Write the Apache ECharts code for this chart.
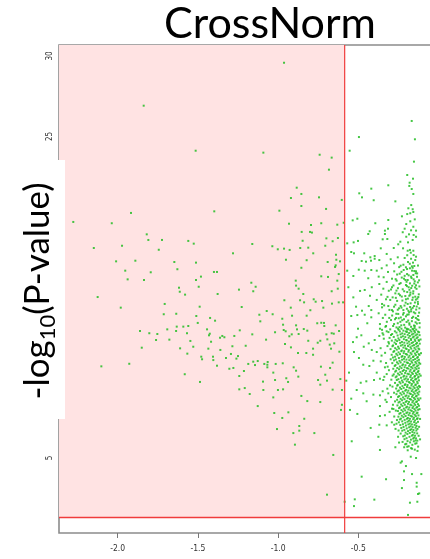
<!DOCTYPE html>
<html>
<head>
<meta charset="utf-8">
<script src="https://cdn.jsdelivr.net/npm/echarts@6/dist/echarts.min.js"></script>
<style>
  html, body { margin: 0; padding: 0; background: #fff; }
  #chart { width: 430px; height: 559px; }
</style>
</head>
<body>
<div id="chart"></div>
<script>
// Axis ticks and thresholds
const xTicks = [-2.0, -1.5, -1.0, -0.5];
const yTicks = [5, 10, 15, 20, 25, 30];
const foldCutoff = -0.585;   // log2 fold-change threshold
const pCutoff = 1.3;         // -log10(0.05)
const xRange = [-2.366, 0];
const yRange = [0.336, 30.684];

// Genes left of the fold-change cutoff: [log2FC, -log10 P]
const pinkPoints = [
  [-0.963,29.58],[-1.838,26.91],[-1.514,24.11],[-1.092,23.99],[-0.741,23.86],[-0.666,23.68],[-0.683,22.93],
  [-1.917,20.24],[-2.277,19.68],[-2.037,19.60],[-1.819,18.91],[-1.809,18.56],[-1.724,18.56],[-1.560,18.50],[-1.526,18.33],
  [-2.149,18.06],[-1.973,18.20],[-1.744,17.95],[-1.890,17.27],[-2.010,17.23],[-1.647,17.19],[-1.512,17.15],[-1.628,16.74],
  [-1.953,16.65],[-1.794,16.55],[-1.938,16.11],[-1.836,16.07],[-1.512,16.07],[-1.618,15.59],[-1.495,15.65],[-1.613,15.34],
  [-1.580,15.16],[-2.125,15.01],[-1.707,14.58],[-1.489,14.41],[-1.981,14.35],[-1.713,13.94],[-1.635,13.97],[-1.510,13.83],
  [-1.501,13.40],[-1.560,13.21],[-1.591,13.17],[-1.632,13.17],[-1.691,13.00],[-1.636,12.90],[-1.861,12.90],[-1.803,12.76],
  [-1.753,12.71],[-1.568,12.76],[-1.678,12.36],[-1.761,12.34],[-1.547,12.28],[-1.529,11.92],[-1.850,11.86],[-1.611,11.82],
  [-1.566,11.49],[-1.928,10.86],[-2.102,10.70],[-1.582,10.21],
  [-0.884,21.81],[-0.855,21.42],[-0.920,21.17],[-0.745,21.21],[-0.603,21.05],[-0.855,20.67],[-0.992,20.38],[-1.398,20.34],
  [-0.701,20.49],[-0.932,19.57],[-0.795,19.49],[-0.731,19.60],[-0.631,19.51],[-0.591,19.63],[-0.853,19.06],[-0.801,19.06],
  [-0.789,19.02],[-0.699,18.66],[-0.627,18.68],[-0.847,18.51],[-0.660,18.48],[-1.161,18.31],[-0.706,18.20],[-1.036,18.17],
  [-1.002,17.98],[-0.963,18.02],[-0.928,17.94],[-0.862,18.06],[-0.812,18.08],[-0.781,17.73],[-1.281,17.73],[-0.639,17.64],
  [-0.951,17.33],[-0.822,17.30],[-0.691,17.19],[-0.637,17.33],[-0.614,17.23],[-0.641,16.98],[-0.645,16.88],[-0.855,16.83],
  [-1.400,16.57],[-1.381,16.57],[-1.481,16.28],[-0.622,16.44],[-0.731,16.30],[-0.689,16.26],[-0.890,16.03],[-0.888,15.72],
  [-0.872,15.53],[-1.167,15.90],[-1.140,15.65],[-1.244,15.47],[-1.155,15.37],[-0.843,15.20],[-0.628,15.53],[-0.666,15.37],
  [-1.377,15.20],[-0.778,14.87],[-0.961,14.81],[-0.863,14.81],[-0.838,14.68],[-0.766,14.72],[-0.726,14.76],[-0.799,14.19],
  [-0.622,14.68],[-0.595,14.68],[-0.664,14.60],[-0.718,14.35],[-1.227,14.39],[-0.921,14.35],[-0.913,13.85],[-0.822,13.85],
  [-1.071,14.14],[-1.034,13.94],[-1.117,13.91],[-0.974,13.66],[-0.888,13.25],[-0.965,12.96],[-0.953,12.88],[-0.969,13.29],
  [-1.111,13.50],[-1.393,13.54],[-1.424,13.71],[-1.443,13.00],[-1.426,12.73],[-1.431,12.63],[-1.239,12.94],[-1.019,12.82],
  [-0.915,12.69],[-0.930,12.57],[-0.882,13.00],[-0.840,13.02],[-0.818,12.92],[-0.756,13.38],[-0.731,13.41],[-0.714,13.40],
  [-0.712,13.21],[-0.641,13.25],[-0.620,12.90],[-0.699,12.69],[-0.666,12.76],[-0.653,12.73],[-0.693,12.38],[-0.737,12.29],
  [-0.678,12.05],[-0.650,12.13],[-0.812,12.29],[-0.872,12.71],[-1.161,12.69],[-1.348,12.59],[-1.335,12.51],[-1.362,12.48],
  [-1.273,12.59],[-1.418,12.23],[-1.285,11.95],[-1.202,11.98],[-1.075,12.36],[-0.957,12.09],[-0.920,11.88],[-0.782,11.80],
  [-0.670,11.80],[-1.435,11.80],[-1.360,11.72],
  [-1.479,11.30],[-1.474,11.14],[-1.404,11.09],[-1.406,11.30],[-1.325,11.22],[-1.294,11.47],[-1.250,11.34],[-1.260,11.18],
  [-1.381,10.74],[-1.304,10.55],[-1.279,10.60],[-1.242,10.10],[-1.213,10.41],[-1.186,10.85],[-1.155,10.99],[-1.144,10.78],
  [-1.127,11.03],[-1.086,10.85],[-1.065,10.97],[-1.067,10.80],[-1.067,10.64],[-1.015,10.85],[-0.971,10.89],[-0.876,11.53],
  [-0.824,11.53],[-0.782,11.42],[-0.753,12.17],[-0.618,11.61],[-0.903,10.64],[-0.888,10.43],[-1.030,10.31],[-1.019,9.85],
  [-0.949,9.96],[-0.938,9.73],[-0.874,10.06],[-0.969,9.27],[-1.001,9.23],[-1.094,9.75],[-1.092,9.23],[-1.177,8.98],
  [-1.208,9.35],[-1.242,9.27],[-1.487,9.73],[-1.127,8.23],[-1.030,8.77],[-0.855,8.86],[-0.818,8.54],[-0.737,8.48],
  [-0.733,10.68],[-0.706,10.18],[-0.737,9.56],[-0.751,9.85],[-0.695,9.81],[-0.660,10.93],[-0.676,10.60],[-0.612,9.91],
  [-0.660,9.25],[-0.602,9.23],[-0.602,8.31],[-0.608,7.99],[-1.024,7.80],[-0.936,7.84],[-0.974,7.49],[-0.837,7.44],
  [-1.007,6.80],[-0.905,6.55],[-0.868,6.99],[-0.868,6.70],[-0.774,6.55],[-0.895,5.83],[-0.656,5.19],[-0.695,2.72],
  [-0.631,16.03]
];

// Genes right of the cutoff, outside the dense core
const rightPoints = [
  [-0.167,25.96],[-0.496,24.96],[-0.147,24.82],[-0.554,24.11],[-0.153,23.43],[-0.195,22.60],[-0.159,22.37],[-0.180,22.12],
  [-0.313,21.96],[-0.419,21.75],[-0.182,21.92],[-0.167,21.73],
  [-0.157,21.42],[-0.494,21.46],[-0.477,21.21],[-0.404,21.03],[-0.269,20.96],[-0.170,20.73],[-0.188,20.53],[-0.161,20.47],
  [-0.157,20.30],[-0.176,20.22],[-0.195,20.17],[-0.228,20.03],[-0.506,19.88],[-0.535,19.78],[-0.313,19.80],[-0.148,19.84],
  [-0.394,19.60],[-0.176,19.72],[-0.201,19.55],[-0.157,19.38],[-0.315,19.26],[-0.334,19.14],[-0.211,19.26],[-0.223,19.04],
  [-0.171,19.16],[-0.140,19.14],[-0.429,19.10],[-0.438,18.93],[-0.334,18.93],[-0.184,18.91],[-0.155,18.87],[-0.140,18.76],
  [-0.201,18.76],[-0.348,18.60],[-0.319,18.62],[-0.161,18.56],[-0.238,18.45],[-0.190,18.41],[-0.569,18.35],[-0.529,18.41],
  [-0.502,18.50],[-0.251,18.29],[-0.279,18.06],[-0.360,18.04],[-0.221,18.04],[-0.178,17.94],[-0.157,17.89],[-0.192,17.89],
  [-0.544,17.81],[-0.527,17.73],[-0.463,17.73],[-0.323,17.69],[-0.173,17.77],[-0.155,17.62],[-0.195,17.61],[-0.140,17.52],
  [-0.425,17.48],[-0.398,17.39],[-0.398,17.56],[-0.254,17.48],[-0.211,17.44],[-0.171,17.39],[-0.298,17.36],[-0.369,17.31],
  [-0.479,17.25],[-0.452,17.21],[-0.421,17.27],[-0.190,17.19],[-0.159,17.15],[-0.277,17.11],[-0.151,16.94],[-0.323,16.98],
  [-0.354,16.80],[-0.236,16.96],[-0.203,16.86],[-0.178,16.80],[-0.217,16.69],[-0.165,16.65],[-0.140,16.61],[-0.419,16.69],
  [-0.460,16.65],[-0.385,16.65],[-0.497,16.71],[-0.569,16.65],[-0.315,16.57],[-0.276,16.61],[-0.242,16.46],[-0.196,16.44],
  [-0.157,16.38],[-0.171,16.28],[-0.342,16.24],[-0.373,16.28],[-0.531,16.32],[-0.438,16.18],[-0.290,16.15],[-0.215,16.15],
  [-0.155,16.11],[-0.192,16.07],[-0.148,15.99],[-0.261,16.03],[-0.323,15.95],[-0.178,15.86],[-0.369,15.82],[-0.244,15.82],
  [-0.203,15.76],[-0.140,15.74],[-0.562,15.62],[-0.290,15.62],[-0.416,15.62],[-0.344,15.53],[-0.170,15.57],[-0.223,15.49],
  [-0.460,15.45],[-0.489,15.39],[-0.310,15.40],[-0.157,15.37],[-0.195,15.32],[-0.269,15.24],[-0.531,14.99],[-0.427,15.09],
  [-0.357,15.16],[-0.240,15.12],[-0.182,15.09],[-0.145,15.03],[-0.286,14.99],[-0.327,14.87],[-0.203,14.87],[-0.163,14.83],
  [-0.132,14.91],[-0.385,14.83],[-0.435,14.45],[-0.514,14.41],[-0.477,14.16],[-0.352,14.58],[-0.352,14.37],[-0.313,14.45],
  [-0.269,14.53],[-0.236,14.45],[-0.192,14.58],[-0.153,14.45],[-0.128,14.58],[-0.419,14.20],[-0.290,14.20],[-0.219,14.20],
  [-0.170,14.25],[-0.460,13.91],[-0.373,14.00],[-0.332,13.91],[-0.251,13.96],[-0.195,13.91],[-0.145,14.00],[-0.544,13.83],
  [-0.506,13.89],[-0.419,13.75],[-0.307,13.71],[-0.265,13.71],[-0.215,13.63],[-0.165,13.71],[-0.132,13.63],[-0.444,13.38],
  [-0.365,13.33],[-0.327,13.21],[-0.277,13.33],[-0.232,13.25],[-0.182,13.38],[-0.148,13.21],[-0.502,13.04],[-0.365,13.04],
  [-0.252,13.04],[-0.198,13.04],[-0.157,13.00],
  [-0.481,12.63],[-0.510,12.51],[-0.533,12.21],[-0.435,12.13],[-0.466,11.92],[-0.398,12.34],[-0.369,12.59],[-0.344,12.67],
  [-0.416,11.72],[-0.385,11.59],[-0.527,11.59],[-0.496,11.22],[-0.469,10.80],[-0.406,11.05],[-0.360,11.01],[-0.431,10.72],
  [-0.334,10.64],[-0.385,10.31],[-0.365,9.93],[-0.485,9.68],[-0.510,9.23],[-0.450,9.77],[-0.402,9.85],[-0.344,9.85],
  [-0.323,10.22],[-0.558,10.31],[-0.575,9.81],[-0.469,9.02],[-0.406,8.94],[-0.348,9.15],[-0.544,8.69],[-0.448,8.53],
  [-0.365,8.90],[-0.313,9.02],[-0.552,7.99],[-0.506,7.74],[-0.365,8.23],[-0.323,8.48],[-0.290,8.07],[-0.365,7.61],
  [-0.334,7.66],[-0.423,6.87],[-0.369,7.07],[-0.323,7.03],[-0.276,7.07],[-0.541,6.04],[-0.375,6.32],[-0.269,5.67],
  [-0.365,5.50],[-0.195,5.70],[-0.132,6.08],[-0.165,5.58],[-0.236,4.71],[-0.228,4.79],[-0.203,4.50],[-0.173,5.08],
  [-0.140,5.00],[-0.115,6.16],[-0.479,3.84],[-0.327,3.68],[-0.215,4.17],[-0.165,4.00],[-0.107,4.00],[-0.215,3.63],
  [-0.136,3.46],[-0.136,3.22],[-0.228,3.13],[-0.128,2.76],[-0.120,2.80],[-0.400,2.41],[-0.522,2.43],[-0.527,2.01],
  [-0.132,2.28],[-0.178,2.22],[-0.585,2.28],[-0.190,1.46]
];

// Edges of the dense core
const fringePoints = [
  [-0.262,13.12],[-0.238,13.47],[-0.214,13.28],[-0.189,13.55],[-0.171,13.16],[-0.143,13.44],[-0.127,13.83],[-0.221,13.92],
  [-0.183,14.07],[-0.158,13.78],[-0.246,14.31],[-0.205,14.66],[-0.177,14.39],[-0.139,14.23],[-0.123,15.18],[-0.262,15.41],
  [-0.229,15.04],[-0.186,15.62],[-0.151,15.85],[-0.211,16.33],[-0.166,16.92],[-0.134,16.27],[-0.296,13.58],[-0.284,14.12],
  [-0.301,14.83],[-0.258,14.77],[-0.248,13.69],[-0.197,14.28],[-0.160,14.98],[-0.137,15.52],[-0.175,15.29],[-0.118,13.39],
  [-0.129,14.71],[-0.199,15.96],[-0.231,16.58],[-0.267,16.12],[-0.142,16.49],[-0.119,15.67],[-0.153,13.24],[-0.195,12.99],
  [-0.323,12.88],[-0.341,12.42],[-0.318,11.96],[-0.355,11.37],[-0.327,10.91],[-0.309,10.46],[-0.338,10.05],[-0.302,9.52],
  [-0.319,9.31],[-0.296,8.79],[-0.331,8.62],[-0.284,8.31],[-0.305,7.87],[-0.276,7.58],[-0.291,7.22],[-0.268,6.81],
  [-0.252,6.32],[-0.246,5.96],[-0.312,12.21],[-0.298,11.14],[-0.286,10.12],[-0.277,9.06],[-0.271,8.52],[-0.266,7.95],
  [-0.259,7.36],[-0.349,12.76],[-0.361,11.83],[-0.333,11.54],[-0.317,10.68],[-0.294,9.87],[-0.287,9.44],[-0.281,8.05],
  [-0.262,7.13],[-0.249,6.71],
  [-0.112,12.37],[-0.109,11.52],[-0.114,10.86],[-0.111,10.12],[-0.116,9.42],[-0.113,8.71],[-0.118,8.04],[-0.115,7.43],
  [-0.121,6.94],[-0.124,6.38],[-0.127,5.71],[-0.131,5.44],[-0.148,5.52],[-0.171,5.61],[-0.192,5.48],[-0.214,5.67],[-0.118,13.12],
  [-0.283,13.21],[-0.271,13.63],[-0.254,13.38],[-0.243,13.14],[-0.226,13.57],[-0.208,13.11],[-0.199,13.46],[-0.181,13.29],
  [-0.166,13.51],[-0.149,13.09],[-0.135,13.36],[-0.124,13.58],[-0.289,13.86],[-0.263,13.97],[-0.235,13.74],[-0.217,14.02],
  [-0.203,13.81],[-0.186,13.93],[-0.171,14.12],[-0.154,14.06],[-0.141,13.71],[-0.121,14.04],[-0.277,14.41],[-0.254,14.22],
  [-0.231,14.35],[-0.212,14.48],[-0.188,14.16],[-0.174,14.62],[-0.161,14.34],[-0.147,14.67],[-0.136,14.42],[-0.119,14.31],
  [-0.266,14.96],[-0.248,15.21],[-0.225,14.79],[-0.207,15.07],[-0.191,14.91],[-0.176,15.16],[-0.158,15.23],[-0.141,14.85],
  [-0.126,15.01],[-0.281,15.73],[-0.253,15.56],[-0.236,15.88],[-0.214,15.37],[-0.197,15.69],[-0.181,15.46],[-0.164,15.71],
  [-0.146,15.61],[-0.129,15.92],[-0.258,16.41],[-0.229,16.22],[-0.206,16.07],[-0.186,16.36],[-0.168,16.19],[-0.151,16.63],
  [-0.133,16.48],[-0.121,16.05],[-0.245,16.87],[-0.219,17.02],[-0.196,16.75],[-0.179,17.08],[-0.161,16.83],[-0.145,17.31],
  [-0.128,16.97],[-0.331,13.16],[-0.352,12.97],[-0.322,13.47],[-0.347,13.71],[-0.306,14.21],[-0.339,14.49],[-0.318,15.02],
  [-0.296,15.48]
];

// Dense core of small fold changes
const corePoints = [
  [-0.301,13.00],[-0.272,12.88],[-0.248,12.97],[-0.231,13.04],[-0.219,12.92],[-0.204,12.87],[-0.188,13.01],[-0.176,12.94],[-0.162,13.03],[-0.151,12.90],[-0.139,12.98],[-0.128,12.86],
  [-0.312,12.83],[-0.289,12.71],[-0.262,12.80],[-0.241,12.87],[-0.226,12.75],[-0.211,12.70],[-0.197,12.84],[-0.183,12.77],[-0.169,12.86],[-0.157,12.73],[-0.146,12.81],[-0.133,12.69],[-0.121,12.82],
  [-0.296,12.65],[-0.279,12.53],[-0.255,12.62],[-0.237,12.69],[-0.222,12.57],[-0.207,12.52],[-0.192,12.66],[-0.179,12.59],[-0.166,12.68],[-0.154,12.55],[-0.142,12.63],[-0.130,12.51],[-0.118,12.64],
  [-0.305,12.47],[-0.268,12.35],[-0.250,12.44],[-0.233,12.51],[-0.216,12.39],[-0.201,12.34],[-0.186,12.48],[-0.172,12.41],[-0.160,12.50],[-0.148,12.37],[-0.136,12.45],[-0.124,12.33],
  [-0.291,12.30],[-0.274,12.18],[-0.258,12.27],[-0.244,12.34],[-0.228,12.22],[-0.213,12.17],[-0.198,12.31],[-0.184,12.24],[-0.171,12.33],[-0.158,12.20],[-0.145,12.28],[-0.134,12.16],[-0.122,12.29],
  [-0.309,12.12],[-0.283,12.00],[-0.265,12.09],[-0.239,12.16],[-0.224,12.04],[-0.209,11.99],[-0.194,12.13],[-0.180,12.06],[-0.167,12.15],[-0.153,12.02],[-0.140,12.10],[-0.127,11.98],[-0.117,12.11],
  [-0.287,11.95],[-0.270,11.83],[-0.252,11.92],[-0.235,11.99],[-0.219,11.87],[-0.205,11.82],[-0.190,11.96],[-0.175,11.89],[-0.163,11.98],[-0.150,11.85],[-0.137,11.93],[-0.125,11.81],
  [-0.299,11.77],[-0.276,11.65],[-0.260,11.74],[-0.246,11.81],[-0.229,11.69],[-0.214,11.64],[-0.199,11.78],[-0.185,11.71],[-0.170,11.80],[-0.156,11.67],[-0.143,11.75],[-0.131,11.63],[-0.120,11.76],
  [-0.281,11.60],[-0.263,11.48],[-0.249,11.57],[-0.232,11.64],[-0.217,11.52],[-0.203,11.47],[-0.188,11.61],[-0.174,11.54],[-0.161,11.63],[-0.147,11.50],[-0.135,11.58],[-0.123,11.46],
  [-0.292,11.42],[-0.271,11.30],[-0.256,11.39],[-0.240,11.46],[-0.225,11.34],[-0.210,11.29],[-0.196,11.43],[-0.181,11.36],[-0.168,11.45],[-0.155,11.32],[-0.141,11.40],[-0.129,11.28],[-0.119,11.41],
  [-0.284,11.25],[-0.266,11.13],[-0.247,11.22],[-0.230,11.29],[-0.215,11.17],[-0.200,11.12],[-0.187,11.26],[-0.173,11.19],[-0.159,11.28],[-0.146,11.15],[-0.133,11.23],[-0.122,11.11],
  [-0.277,11.07],[-0.259,10.95],[-0.243,11.04],[-0.227,11.11],[-0.212,10.99],[-0.197,10.94],[-0.182,11.08],[-0.169,11.01],[-0.157,11.10],[-0.144,10.97],[-0.132,11.05],[-0.121,10.93],
  [-0.288,10.90],[-0.268,10.78],[-0.251,10.87],[-0.236,10.94],[-0.221,10.82],[-0.206,10.77],[-0.191,10.91],[-0.177,10.84],[-0.164,10.93],[-0.151,10.80],[-0.138,10.88],[-0.126,10.76],
  [-0.273,10.72],[-0.257,10.60],[-0.241,10.69],[-0.226,10.76],[-0.211,10.64],[-0.196,10.59],[-0.183,10.73],[-0.170,10.66],[-0.158,10.75],[-0.145,10.62],[-0.134,10.70],[-0.123,10.58],
  [-0.282,10.55],[-0.264,10.43],[-0.246,10.52],[-0.231,10.59],[-0.216,10.47],[-0.202,10.42],[-0.188,10.56],[-0.174,10.49],[-0.162,10.58],[-0.149,10.45],[-0.137,10.53],[-0.125,10.41],
  [-0.270,10.37],[-0.253,10.25],[-0.238,10.34],[-0.223,10.41],[-0.208,10.29],[-0.193,10.24],[-0.179,10.38],[-0.166,10.31],[-0.153,10.40],[-0.141,10.27],[-0.129,10.35],[-0.119,10.23],
  [-0.279,10.20],[-0.261,10.08],[-0.244,10.17],[-0.229,10.24],[-0.214,10.12],[-0.199,10.07],[-0.185,10.21],[-0.172,10.14],[-0.160,10.23],[-0.147,10.10],[-0.135,10.18],[-0.124,10.06],
  [-0.267,10.02],[-0.250,9.90],[-0.234,9.99],[-0.219,10.06],[-0.204,9.94],[-0.190,9.89],[-0.176,10.03],[-0.163,9.96],[-0.150,10.05],[-0.139,9.92],[-0.127,10.00],
  [-0.260,9.85],[-0.243,9.73],[-0.228,9.82],[-0.213,9.89],[-0.198,9.77],[-0.184,9.72],[-0.171,9.86],[-0.158,9.79],[-0.146,9.88],[-0.133,9.75],[-0.122,9.83],
  [-0.271,9.67],[-0.254,9.55],[-0.237,9.64],[-0.222,9.71],[-0.207,9.59],[-0.193,9.54],[-0.179,9.68],[-0.166,9.61],[-0.154,9.70],[-0.142,9.57],[-0.130,9.65],
  [-0.257,9.50],[-0.240,9.38],[-0.225,9.47],[-0.210,9.54],[-0.196,9.42],[-0.182,9.37],[-0.169,9.51],[-0.156,9.44],[-0.144,9.53],[-0.132,9.40],[-0.121,9.48],
  [-0.264,9.32],[-0.247,9.20],[-0.232,9.29],[-0.217,9.36],[-0.202,9.24],[-0.188,9.19],[-0.174,9.33],[-0.161,9.26],[-0.149,9.35],[-0.137,9.22],[-0.126,9.30],
  [-0.255,9.15],[-0.238,9.03],[-0.223,9.12],[-0.208,9.19],[-0.194,9.07],[-0.180,9.02],[-0.167,9.16],[-0.155,9.09],[-0.143,9.18],[-0.131,9.05],[-0.120,9.13],
  [-0.262,8.97],[-0.245,8.85],[-0.230,8.94],[-0.215,9.01],[-0.200,8.89],[-0.186,8.84],[-0.173,8.98],[-0.160,8.91],[-0.148,9.00],[-0.136,8.87],[-0.125,8.95],
  [-0.252,8.80],[-0.236,8.68],[-0.221,8.77],[-0.206,8.84],[-0.192,8.72],[-0.178,8.67],[-0.165,8.81],[-0.153,8.74],[-0.141,8.83],[-0.129,8.70],
  [-0.258,8.62],[-0.242,8.50],[-0.227,8.59],[-0.212,8.66],[-0.198,8.54],[-0.184,8.49],[-0.171,8.63],[-0.158,8.56],[-0.146,8.65],[-0.134,8.52],[-0.123,8.60],
  [-0.249,8.45],[-0.233,8.33],[-0.218,8.42],[-0.204,8.49],[-0.190,8.37],[-0.176,8.32],[-0.163,8.46],[-0.151,8.39],[-0.139,8.48],[-0.128,8.35],
  [-0.256,8.27],[-0.240,8.15],[-0.225,8.24],[-0.210,8.31],[-0.196,8.19],[-0.182,8.14],[-0.169,8.28],[-0.157,8.21],[-0.145,8.30],[-0.133,8.17],[-0.122,8.25],
  [-0.246,8.10],[-0.231,7.98],[-0.216,8.07],[-0.202,8.14],[-0.188,8.02],[-0.175,7.97],[-0.162,8.11],[-0.150,8.04],[-0.138,8.13],[-0.127,8.00],
  [-0.253,7.92],[-0.237,7.80],[-0.222,7.89],[-0.208,7.96],[-0.194,7.84],[-0.180,7.79],[-0.167,7.93],[-0.155,7.86],[-0.143,7.95],[-0.131,7.82],
  [-0.244,7.75],[-0.229,7.63],[-0.214,7.72],[-0.200,7.79],[-0.186,7.67],[-0.173,7.62],[-0.160,7.76],[-0.148,7.69],[-0.136,7.78],[-0.125,7.65],
  [-0.250,7.57],[-0.234,7.45],[-0.219,7.54],[-0.205,7.61],[-0.191,7.49],[-0.178,7.44],[-0.165,7.58],[-0.153,7.51],[-0.141,7.60],[-0.130,7.47],
  [-0.241,7.40],[-0.226,7.28],[-0.211,7.37],[-0.197,7.44],[-0.184,7.32],[-0.171,7.27],[-0.158,7.41],[-0.146,7.34],[-0.134,7.43],
  [-0.247,7.22],[-0.222,7.10],[-0.207,7.19],[-0.193,7.26],[-0.179,7.14],[-0.166,7.09],[-0.152,7.23],[-0.139,7.16],[-0.128,7.25],
  [-0.238,7.05],[-0.218,6.93],[-0.203,7.02],[-0.188,7.09],[-0.174,6.97],[-0.161,6.92],[-0.149,7.06],[-0.137,6.99],
  [-0.232,6.87],[-0.213,6.75],[-0.198,6.84],[-0.183,6.91],[-0.169,6.79],[-0.156,6.74],[-0.143,6.88],[-0.131,6.81],
  [-0.226,6.70],[-0.205,6.58],[-0.190,6.67],[-0.176,6.74],[-0.163,6.62],[-0.150,6.57],[-0.138,6.71],
  [-0.236,6.52],[-0.210,6.40],[-0.194,6.49],[-0.179,6.56],[-0.160,6.44],[-0.146,6.39],[-0.133,6.53],
  [-0.220,6.35],[-0.199,6.23],[-0.181,6.32],[-0.166,6.39],[-0.152,6.27],[-0.140,6.22],
  [-0.212,6.17],[-0.193,6.05],[-0.172,6.14],[-0.158,6.21],[-0.143,6.09],
  [-0.224,6.00],[-0.201,5.88],[-0.177,5.97],[-0.154,6.04],[-0.137,5.92],
  [-0.208,5.85],[-0.186,5.73],[-0.163,5.82],[-0.145,5.89]
];

const allPoints = pinkPoints.concat(rightPoints, fringePoints, corePoints);

const tickFont = "'Liberation Sans Narrow','DejaVu Sans Condensed','Liberation Sans',sans-serif";
const cutoffColor = '#f03c3c';

const chart = echarts.init(document.getElementById('chart'), null, { renderer: 'canvas' });

chart.setOption({
  animation: false,
  backgroundColor: '#ffffff',
  grid: {
    left: 59, top: 45, width: 379.5, height: 488,
    outerBoundsMode: 'none', containLabel: false,
    show: true, borderColor: '#8c8c8c', borderWidth: 1.6, backgroundColor: 'transparent'
  },
  xAxis: {
    type: 'value', min: xRange[0], max: xRange[1],
    axisLine: { show: false },
    splitLine: { show: false },
    axisTick: { show: true, length: 5, customValues: xTicks, lineStyle: { color: '#777', width: 1 } },
    axisLabel: {
      customValues: xTicks, margin: 11, fontSize: 8.5, color: '#333', fontFamily: tickFont,
      formatter: v => v.toFixed(1)
    }
  },
  yAxis: {
    type: 'value', min: yRange[0], max: yRange[1],
    axisLine: { show: false },
    splitLine: { show: false },
    axisTick: { show: true, length: 4, customValues: yTicks, lineStyle: { color: '#777', width: 1 } },
    axisLabel: {
      customValues: yTicks, rotate: 90, margin: 5, fontSize: 8, color: '#333', fontFamily: tickFont
    }
  },
  series: [
    {
      // Shaded significance region
      type: 'scatter', z: 1, silent: true, symbolSize: 0,
      data: [[xRange[0], yRange[0]]],
      markArea: {
        silent: true,
        itemStyle: { color: '#ffe3e3' },
        data: [[{ xAxis: xRange[0], yAxis: pCutoff }, { xAxis: foldCutoff, yAxis: yRange[1] }]]
      }
    },
    {
      type: 'scatter', z: 2, silent: true,
      symbol: 'rect', symbolSize: [2, 2],
      itemStyle: { color: '#25bd25', opacity: 0.85 },
      data: allPoints
    },
    {
      // Fold-change cutoff
      type: 'line', z: 3, silent: true, symbol: 'none', clip: false,
      itemStyle: { color: cutoffColor },
      lineStyle: { color: cutoffColor, width: 1.2, type: 'solid' },
      data: [[foldCutoff, yRange[0]], [foldCutoff, yRange[1]]]
    },
    {
      // P-value cutoff
      type: 'line', z: 3, silent: true, symbol: 'none', clip: false,
      itemStyle: { color: cutoffColor },
      lineStyle: { color: cutoffColor, width: 1.4, type: 'solid' },
      data: [[xRange[0], pCutoff], [xRange[1], pCutoff]]
    }
  ],
  graphic: [
    {
      type: 'text', x: 270, y: 24, z: 100,
      style: {
        text: 'CrossNorm', fontSize: 43, fontFamily: 'Lato', fill: '#000',
        align: 'center', verticalAlign: 'middle'
      }
    },
    {
      type: 'rect', z: 100,
      shape: { x: 0, y: 160, width: 65, height: 259 },
      style: { fill: '#ffffff' }
    },
    {
      type: 'text', x: 38, y: 291, rotation: Math.PI / 2, z: 101,
      style: {
        text: '{a|-log}{b|10}{a|(P-value)}',
        align: 'center', verticalAlign: 'middle',
        rich: {
          a: { fontSize: 35, fontFamily: 'Lato', lineHeight: 42, fill: '#000' },
          b: { fontSize: 22, fontFamily: 'Lato', lineHeight: 22, verticalAlign: 'bottom', fill: '#000' }
        }
      }
    }
  ]
});
</script>
</body>
</html>
